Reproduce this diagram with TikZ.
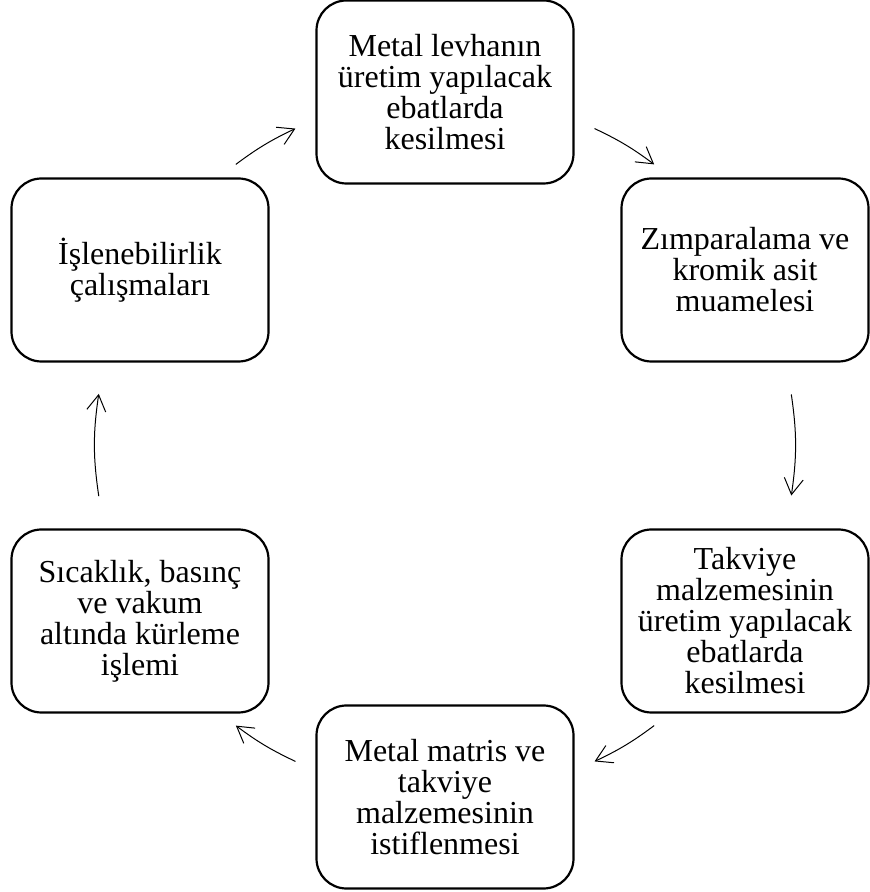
\documentclass[tikz,border=0pt]{standalone}
\usepackage{fontspec}
\setmainfont{Liberation Serif}
\usepackage{tikz}
\usetikzlibrary{calc,arrows.meta,positioning,shapes.geometric}

\tikzset{
  stepbox/.style={rectangle, draw, line width=2.2pt, rounded corners=30pt,
    minimum width=257pt, minimum height=183pt, inner sep=0pt, align=center,
    font=\fontsize{32}{31}\selectfont},
  cyc/.style={-{Straight Barb[length=16pt,width=19pt]}, line width=1pt}
}

\begin{document}
\begin{tikzpicture}[x=1pt,y=1pt]
      \useasboundingbox (0,0) rectangle (870,892);
      \node [stepbox] (cut) at (445,800) {Metal levhanın\\üretim yapılacak\\ebatlarda\\kesilmesi};
      \node [stepbox, minimum width=247pt] (sand) at (745,622) {Zımparalama ve\\kromik asit\\muamelesi};
      \node [stepbox, minimum width=247pt] (reinf) at (745,271) {Takviye\\malzemesinin\\üretim yapılacak\\ebatlarda\\kesilmesi};
      \node [stepbox] (stack) at (445,95) {Metal matris ve\\takviye\\malzemesinin\\istiflenmesi};
      \node [stepbox] (cure) at (140,271) {Sıcaklık, basınç\\ve vakum\\altında kürleme\\işlemi};
      \node [stepbox] (mach) at (140,622) {İşlenebilirlik\\çalışmaları};
      % arrow ends sit on one circle round the middle
      \coordinate (hub) at (445,447);
      \coordinate (cut-s) at ([shift={(64.7:350)}]hub);
      \coordinate (sand-e) at ([shift={(53.3:350)}]hub);
      \coordinate (sand-s) at ([shift={(8.3:350)}]hub);
      \coordinate (reinf-e) at ([shift={(-8.3:350)}]hub);
      \coordinate (reinf-s) at ([shift={(-53.3:350)}]hub);
      \coordinate (stack-e) at ([shift={(-64.7:350)}]hub);
      \coordinate (stack-s) at ([shift={(-115.3:350)}]hub);
      \coordinate (cure-e) at ([shift={(-126.7:350)}]hub);
      \coordinate (cure-s) at ([shift={(188.4:350)}]hub);
      \coordinate (mach-e) at ([shift={(171.6:350)}]hub);
      \coordinate (mach-s) at ([shift={(126.7:350)}]hub);
      \coordinate (cut-e) at ([shift={(115.3:350)}]hub);
      \draw [cyc] (cut-s) to[bend left=5.7] (sand-e);
      \draw [cyc] (sand-s) to[bend left=8.3] (reinf-e);
      \draw [cyc] (reinf-s) to[bend left=5.7] (stack-e);
      \draw [cyc] (stack-s) to[bend left=5.7] (cure-e);
      \draw [cyc] (cure-s) to[bend left=8.4] (mach-e);
      \draw [cyc] (mach-s) to[bend left=5.7] (cut-e);
\end{tikzpicture}
\end{document}
